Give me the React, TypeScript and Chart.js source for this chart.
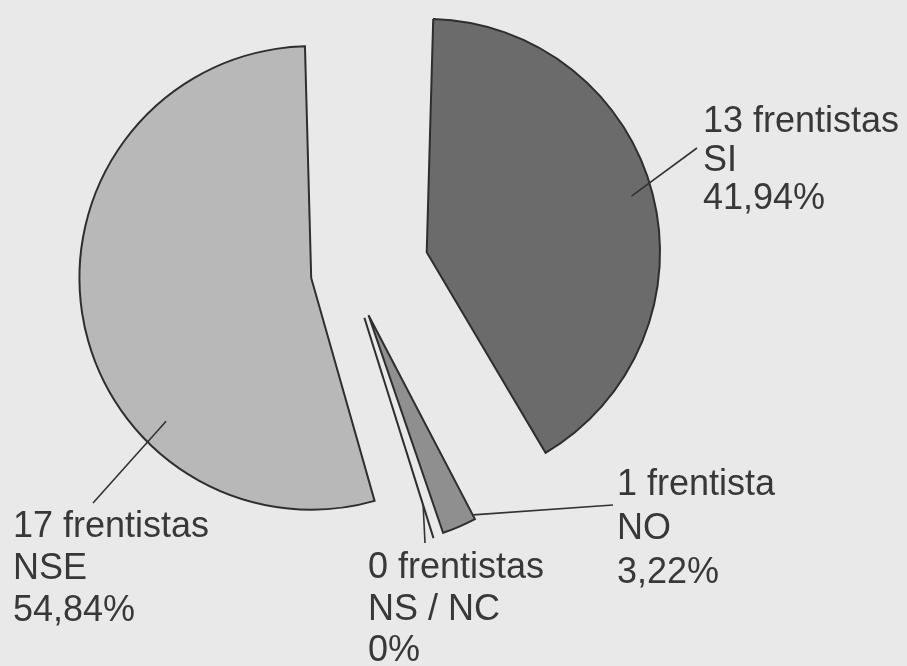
import React, { useEffect, useRef } from "react";
import { Chart, registerables } from "chart.js";

Chart.register(...registerables);

// ---- data ----
const categories = ["SI", "NO", "NS / NC", "NSE"];
const counts = [13, 1, 0, 17];
const countLabels = ["13 frentistas", "1 frentista", "0 frentistas", "17 frentistas"];
const percentLabels = ["41,94%", "3,22%", "0%", "54,84%"];

// ---- styles ----
const FILLS = ["#6b6b6b", "#8f8f8f", "#9a9a9a", "#b8b8b8"];
const EXPLODE = [317, 188, 192, 157];
const BORDER = "#2e2e2e";
const TEXT = "#383838";
const FONT = '36px "Liberation Sans", Arial, sans-serif';

// label layout (relative to the pie centre): text block left/first baseline,
// leader end near the text, and the leader start inside the slice
// (fraction across the slice angle, fraction of the radius)
const LABEL_LAYOUT = [
  { tx: 353, ty: -140, pitch: 38.5, lx: 347, ly: -124, angFrac: 0.495, radFrac: 0.91 },
  { tx: 267, ty: 223, pitch: 44, lx: 263, ly: 233, angFrac: 0.12, radFrac: 0.98 },
  { tx: 18, ty: 306, pitch: 41.5, lx: 75, ly: 271, angFrac: 0, radFrac: 0.85 },
  { tx: -337, ty: 265, pitch: 42, lx: -257, ly: 231, angFrac: 0.318, radFrac: 0.88 },
];

function sliceGeom(el: any) {
  const p = el.getProps(["x", "y", "startAngle", "endAngle", "outerRadius"], true);
  const off = (el.options.offset || 0) / 4;
  const mid = (p.startAngle + p.endAngle) / 2;
  const circ = p.endAngle - p.startAngle;
  const fix = 1 - Math.sin(Math.min(Math.PI, circ));
  return {
    ax: p.x + Math.cos(mid) * off,
    ay: p.y + Math.sin(mid) * off,
    r: p.outerRadius + off * (circ === 0 ? 0.8 : fix),
    start: p.startAngle,
    end: p.endAngle,
  };
}

const labelPlugin = {
  id: "pieLabels",
  afterDatasetsDraw(chart: any) {
    const ctx = chart.ctx as CanvasRenderingContext2D;
    const meta = chart.getDatasetMeta(0);
    const ca = chart.chartArea;
    const cx = (ca.left + ca.right) / 2;
    const cy = (ca.top + ca.bottom) / 2;
    ctx.save();
    // zero-value slices: drawn as a single radius line
    meta.data.forEach((el: any, i: number) => {
      if (counts[i] !== 0) return;
      const g = sliceGeom(el);
      ctx.strokeStyle = BORDER;
      ctx.lineWidth = 2;
      ctx.beginPath();
      ctx.moveTo(g.ax, g.ay);
      ctx.lineTo(g.ax + Math.cos(g.start) * g.r, g.ay + Math.sin(g.start) * g.r);
      ctx.stroke();
    });
    meta.data.forEach((el: any, i: number) => {
      const L = LABEL_LAYOUT[i];
      const g = sliceGeom(el);
      const a = g.start + (g.end - g.start) * L.angFrac;
      const sx = g.ax + Math.cos(a) * g.r * L.radFrac;
      const sy = g.ay + Math.sin(a) * g.r * L.radFrac;
      ctx.strokeStyle = "#333";
      ctx.lineWidth = 1.6;
      ctx.beginPath();
      ctx.moveTo(sx, sy);
      ctx.lineTo(cx + L.lx, cy + L.ly);
      ctx.stroke();
      ctx.fillStyle = TEXT;
      ctx.font = FONT;
      ctx.textAlign = "left";
      ctx.textBaseline = "alphabetic";
      const lines = [countLabels[i], categories[i], percentLabels[i]];
      lines.forEach((t, k) => {
        ctx.fillText(t, cx + L.tx, cy + L.ty + k * L.pitch);
      });
    });
    ctx.restore();
  },
};

export default function App() {
  const ref = useRef<HTMLCanvasElement>(null);
  useEffect(() => {
    if (!ref.current) return;
    const chart = new Chart(ref.current, {
      type: "pie",
      data: {
        labels: categories,
        datasets: [
          {
            data: counts,
            backgroundColor: FILLS,
            borderColor: BORDER,
            borderWidth: 2,
            borderJoinStyle: "miter",
            offset: EXPLODE,
            hoverOffset: 0,
          },
        ],
      },
      options: {
        animation: false,
        responsive: false,
        devicePixelRatio: 1,
        events: [],
        radius: 192.5,
        rotation: 0,
        layout: { padding: { left: 0, right: 207, top: 0, bottom: 122 } },
        plugins: {
          legend: { display: false },
          tooltip: { enabled: false },
        },
      } as any,
      plugins: [labelPlugin],
    });
    return () => chart.destroy();
  }, []);
  return (
    <div
      style={{
        position: "fixed",
        left: 0,
        top: 0,
        width: 907,
        height: 666,
        background: "#e9e9e9",
      }}
    >
      <canvas ref={ref} width={907} height={666} style={{ width: 907, height: 666, display: "block" }} />
    </div>
  );
}
